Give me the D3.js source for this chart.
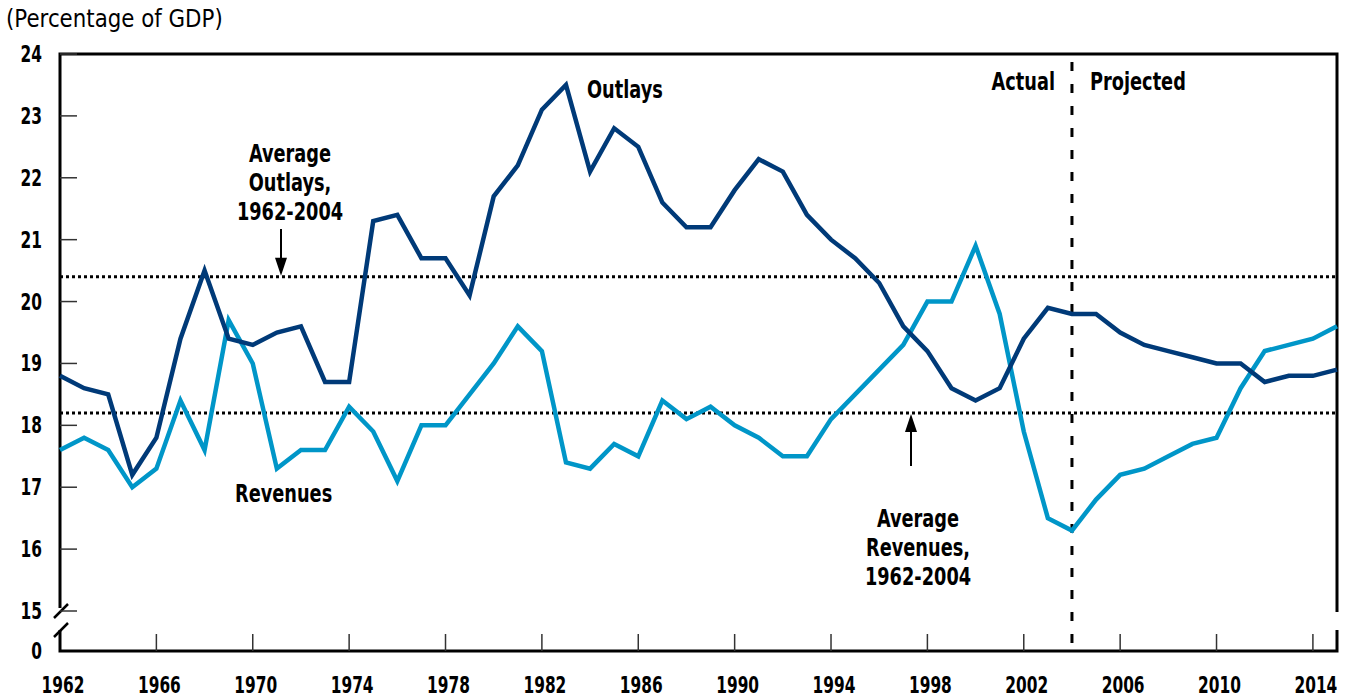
<!DOCTYPE html>
<html>
<head>
<meta charset="utf-8">
<script src="https://cdn.jsdelivr.net/npm/d3@7"></script>
<style>
  body { margin: 0; background: #fff; }
  svg text { font-family: "DejaVu Sans", sans-serif; }
</style>
</head>
<body>
<div id="chart"></div>
<script>
const years = d3.range(1962, 2016);

const outlays = [18.8, 18.6, 18.5, 17.2, 17.8, 19.4, 20.5, 19.4, 19.3, 19.5,
                 19.6, 18.7, 18.7, 21.3, 21.4, 20.7, 20.7, 20.1, 21.7, 22.2,
                 23.1, 23.5, 22.1, 22.8, 22.5, 21.6, 21.2, 21.2, 21.8, 22.3,
                 22.1, 21.4, 21.0, 20.7, 20.3, 19.6, 19.2, 18.6, 18.4, 18.6,
                 19.4, 19.9, 19.8, 19.8, 19.5, 19.3, 19.2, 19.1, 19.0, 19.0,
                 18.7, 18.8, 18.8, 18.9];

const revenues = [17.6, 17.8, 17.6, 17.0, 17.3, 18.4, 17.6, 19.7, 19.0, 17.3,
                  17.6, 17.6, 18.3, 17.9, 17.1, 18.0, 18.0, 18.5, 19.0, 19.6,
                  19.2, 17.4, 17.3, 17.7, 17.5, 18.4, 18.1, 18.3, 18.0, 17.8,
                  17.5, 17.5, 18.1, 18.5, 18.9, 19.3, 20.0, 20.0, 20.9, 19.8,
                  17.9, 16.5, 16.3, 16.8, 17.2, 17.3, 17.5, 17.7, 17.8, 18.6,
                  19.2, 19.3, 19.4, 19.6];

const avgOutlays = 20.4, avgRevenues = 18.2;
const splitYear = 2004;
const yTicks = [15, 16, 17, 18, 19, 20, 21, 22, 23, 24];
const xTicks = [1962, 1966, 1970, 1974, 1978, 1982, 1986, 1990, 1994, 1998, 2002, 2006, 2010, 2014];

const width = 1349, height = 700;
const mLeft = 60, mRight = 1337, mTop = 54, mBottom = 651;

const svg = d3.select("#chart").append("svg")
    .attr("width", width)
    .attr("height", height);

const x = d3.scaleLinear().domain([1962, 2015]).range([mLeft, mRight]);
const y = d3.scaleLinear().domain([15, 24]).range([611, mTop]);

// condensed bold text helper (source uses a condensed face)
const lab = (g, tx, ty, t, anchor, size, sx) => g.append("text")
   .attr("transform", `translate(${tx},${ty}) scale(${sx || 0.74},1)`)
   .attr("text-anchor", anchor || "middle")
   .attr("font-size", size || 24).attr("font-weight", "bold")
   .text(t);

// title
svg.append("text")
   .attr("transform", "translate(6,27) scale(0.89,1)")
   .attr("font-size", 24)
   .text("(Percentage of GDP)");

// frame with axis breaks
const frame = svg.append("g").attr("stroke", "#000").attr("stroke-width", 3).attr("fill", "none");
frame.append("path").attr("d", `M${mLeft},608 V${mTop} H${mRight} V612`);
frame.append("path").attr("d", `M${mLeft},630 V${mBottom} H${mRight} V630`);
frame.append("path").attr("d", `M54,618 L68,604 M54,637 L68,623`).attr("stroke-width", 2.5);

// y ticks
svg.append("g").selectAll("line")
   .data(yTicks).enter().append("line")
   .attr("x1", mLeft).attr("x2", mLeft + 17)
   .attr("y1", d => y(d)).attr("y2", d => y(d))
   .attr("stroke", "#333").attr("stroke-width", 1.5);

const yLab = svg.append("g");
yTicks.forEach(d => lab(yLab, 42, y(d) + 8, d, "end", 23, 0.67));
lab(yLab, 42, mBottom + 8, "0", "end", 23, 0.67);

// x ticks
svg.append("g").selectAll("line")
   .data(xTicks.slice(1)).enter().append("line")
   .attr("x1", d => x(d)).attr("x2", d => x(d))
   .attr("y1", mBottom).attr("y2", mBottom - 17)
   .attr("stroke", "#333").attr("stroke-width", 1.5);

const xLab = svg.append("g");
xTicks.forEach(d => lab(xLab, x(d) + 3, 693, d, "middle", 23, 0.67));

// averages
svg.append("g").selectAll("line")
   .data([avgOutlays, avgRevenues]).enter().append("line")
   .attr("x1", mLeft).attr("x2", mRight)
   .attr("y1", d => y(d)).attr("y2", d => y(d))
   .attr("stroke", "#000").attr("stroke-width", 3)
   .attr("stroke-dasharray", "3,3");

// actual / projected divider
svg.append("line")
   .attr("x1", x(splitYear)).attr("x2", x(splitYear))
   .attr("y1", mTop + 8).attr("y2", mBottom)
   .attr("stroke", "#000").attr("stroke-width", 3)
   .attr("stroke-dasharray", "9,13");

// series
const line = d3.line().x((d, i) => x(years[i])).y(d => y(d));

svg.append("path").datum(revenues)
   .attr("d", line).attr("fill", "none")
   .attr("stroke", "#0096c8").attr("stroke-width", 4.5)
   .attr("stroke-linejoin", "miter");

svg.append("path").datum(outlays)
   .attr("d", line).attr("fill", "none")
   .attr("stroke", "#003a78").attr("stroke-width", 4.5)
   .attr("stroke-linejoin", "miter");

// annotations
const notes = svg.append("g");
lab(notes, 587, 98, "Outlays", "start");
lab(notes, 235, 502, "Revenues", "start");
lab(notes, 1055, 90, "Actual", "end");
lab(notes, 1090, 90, "Projected", "start");

lab(notes, 290, 162, "Average");
lab(notes, 290, 191, "Outlays,");
lab(notes, 290, 220, "1962-2004");

lab(notes, 918, 527, "Average");
lab(notes, 918, 556, "Revenues,");
lab(notes, 918, 585, "1962-2004");

// arrows
const arrow = (ax, y1, y2) => {
  const dir = y2 > y1 ? 1 : -1;
  svg.append("line")
     .attr("x1", ax).attr("x2", ax)
     .attr("y1", y1).attr("y2", y2 - dir * 14)
     .attr("stroke", "#000").attr("stroke-width", 2);
  svg.append("path")
     .attr("d", `M${ax},${y2} L${ax - 6},${y2 - dir * 18} L${ax + 6},${y2 - dir * 18} Z`)
     .attr("fill", "#000");
};
arrow(281, 229, y(avgOutlays) - 1);
arrow(911, 466, y(avgRevenues) + 1);
</script>
</body>
</html>
